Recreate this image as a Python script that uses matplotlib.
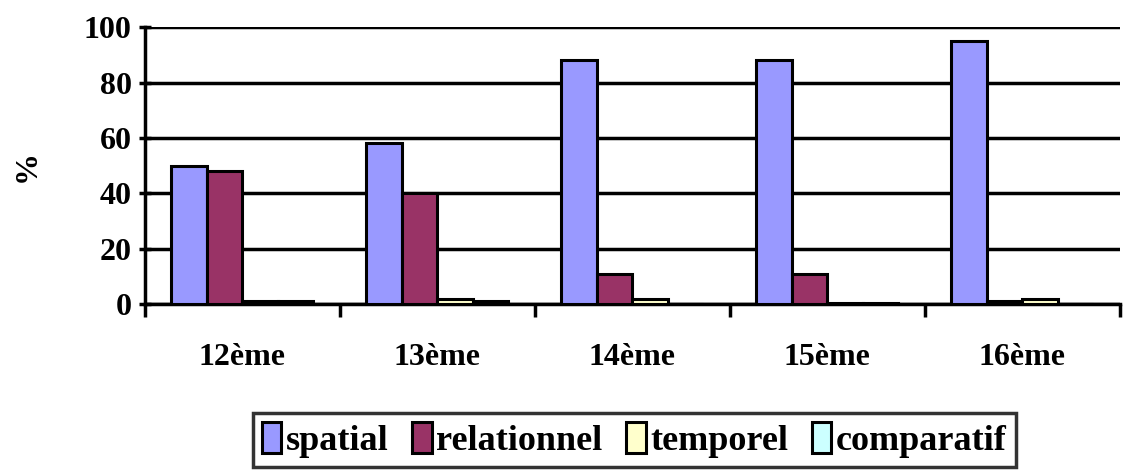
import matplotlib
matplotlib.use("Agg")
import matplotlib.pyplot as plt
import numpy as np

categories = ["12ème", "13ème", "14ème", "15ème", "16ème"]
spatial = [50, 58, 88, 88, 95]
relationnel = [48, 40, 11, 11, 1]
temporel = [1, 2, 2, 0.5, 2]
comparatif = [1, 1, 0, 0.5, 0]
series_names = ["spatial", "relationnel", "temporel", "comparatif"]
colors = ["#9999FF", "#993366", "#FFFFCC", "#CCFFFF"]

plt.rcParams['font.family'] = ['Liberation Serif', 'DejaVu Serif']
plt.rcParams['font.weight'] = 'bold'

fig = plt.figure(figsize=(11.31, 4.76), dpi=100)
ax = fig.add_axes([0.128, 0.361, 0.862, 0.582])

n = len(categories)
x = np.arange(n)
w = 1 / 5.5
data = [spatial, relationnel, temporel, comparatif]
for i, (vals, name, c) in enumerate(zip(data, series_names, colors)):
    offs = (i - 1.5) * w
    ax.bar(x + offs, vals, width=w, color=c, edgecolor="black", linewidth=2.2,
           label=name, zorder=3)

ax.set_xlim(-0.5, n - 0.5)
ax.set_ylim(0, 100)
ax.set_yticks(range(0, 101, 20))
ax.yaxis.grid(True, color="black", linewidth=2.5, zorder=0)
ax.set_axisbelow(True)
for s in ["top", "right"]:
    ax.spines[s].set_visible(False)
ax.spines["left"].set_linewidth(2.5)
ax.spines["bottom"].set_linewidth(2.5)

ax.set_xticks(np.arange(-0.5, n, 1))
ax.set_xticklabels([])
ax.set_xticks(x, minor=True)
ax.set_xticklabels(categories, minor=True, fontsize=23, fontweight="bold")
ax.tick_params(axis="x", which="major", length=9, width=2.5, direction="out")
ax.tick_params(axis="x", which="minor", length=0, pad=28)
ax.tick_params(axis="y", which="major", length=9, width=2.5, direction="inout",
               labelsize=23, pad=5)
for t in ax.get_yticklabels():
    t.set_fontweight("bold")

ax.set_ylabel("%", fontsize=23, fontweight="bold", labelpad=30)

leg = fig.legend(loc="lower center", bbox_to_anchor=(0.5606, 0.003), ncol=4,
                 frameon=True, fancybox=False, edgecolor="black",
                 prop={"family": "Liberation Serif", "weight": "bold", "size": 26},
                 handlelength=0.55, handleheight=0.95, handletextpad=0.12,
                 columnspacing=0.65, borderpad=0.25, borderaxespad=0.2)
leg.get_frame().set_linewidth(2.5)
for p in leg.get_patches():
    p.set_linewidth(2.2)

fig.savefig("out.png", dpi=100)
